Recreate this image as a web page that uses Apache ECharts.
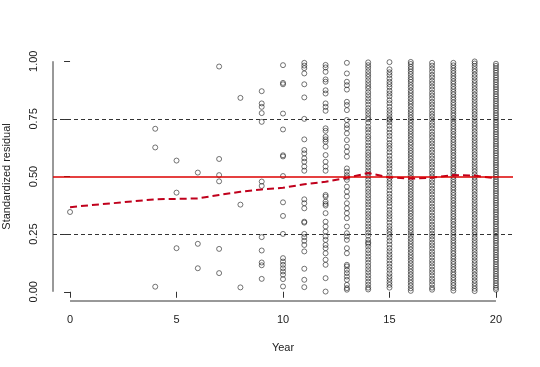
<!DOCTYPE html>
<html>
<head>
<meta charset="utf-8">
<script src="https://cdn.jsdelivr.net/npm/echarts@6/dist/echarts.min.js"></script>
<style>html,body{margin:0;padding:0;background:#fff}#c{width:540px;height:367px}</style>
</head>
<body>
<div id="c"></div>
<script>
// ---- data ----
var years = [0, 4, 5, 6, 7, 8, 9, 10, 11, 12, 13, 14, 15, 16, 17, 18, 19, 20];
var y0 = [0.346];
var y4 = [0.707, 0.626, 0.022];
var y5 = [0.569, 0.430, 0.189];
var y6 = [0.517, 0.208, 0.102];
var y7 = [0.977, 0.576, 0.506, 0.479, 0.186, 0.081];
var y8 = [0.841, 0.378, 0.019];
var y9 = [0.870, 0.817, 0.802, 0.775, 0.737, 0.478, 0.459, 0.237, 0.179, 0.127, 0.115, 0.056];
var y10 = [0.983, 0.906, 0.900, 0.773, 0.704, 0.592, 0.587, 0.502, 0.388, 0.329, 0.251, 0.146, 0.131, 0.117, 0.102, 0.088, 0.074, 0.055, 0.023];
var y11 = [0.993, 0.981, 0.970, 0.947, 0.900, 0.843, 0.750, 0.661, 0.615, 0.600, 0.579, 0.564, 0.543, 0.525, 0.401, 0.384, 0.362, 0.304, 0.300, 0.251, 0.237, 0.221, 0.203, 0.175, 0.100, 0.052, 0.020];
var y12 = [0.984, 0.973, 0.954, 0.921, 0.911, 0.874, 0.860, 0.817, 0.802, 0.785, 0.709, 0.698, 0.672, 0.661, 0.651, 0.629, 0.593, 0.564, 0.543, 0.525, 0.420, 0.413, 0.391, 0.381, 0.374, 0.341, 0.304, 0.283, 0.261, 0.240, 0.225, 0.203, 0.189, 0.167, 0.139, 0.117, 0.059, 0.001];
var y13 = [0.993, 0.947, 0.911, 0.896, 0.877, 0.824, 0.810, 0.788, 0.745, 0.723, 0.709, 0.687, 0.658, 0.629, 0.608, 0.586, 0.535, 0.521, 0.506, 0.496, 0.485, 0.456, 0.434, 0.413, 0.384, 0.362, 0.341, 0.319, 0.283, 0.254, 0.240, 0.225, 0.189, 0.167, 0.117, 0.110, 0.095, 0.081, 0.066, 0.052, 0.030, 0.016, 0.009];
var y14 = [0.995, 0.983, 0.971, 0.957, 0.944, 0.932, 0.918, 0.905, 0.892, 0.881, 0.866, 0.853, 0.839, 0.826, 0.812, 0.797, 0.784, 0.771, 0.757, 0.748, 0.733, 0.716, 0.704, 0.690, 0.675, 0.663, 0.648, 0.634, 0.621, 0.606, 0.593, 0.580, 0.566, 0.553, 0.540, 0.526, 0.514, 0.500, 0.487, 0.473, 0.461, 0.446, 0.433, 0.419, 0.406, 0.392, 0.379, 0.366, 0.351, 0.338, 0.324, 0.311, 0.296, 0.283, 0.270, 0.256, 0.243, 0.225, 0.214, 0.208, 0.196, 0.181, 0.167, 0.153, 0.140, 0.126, 0.112, 0.098, 0.085, 0.071, 0.058, 0.044, 0.031, 0.018, 0.010];
var y15 = [0.996, 0.965, 0.952, 0.940, 0.925, 0.911, 0.900, 0.888, 0.872, 0.860, 0.848, 0.831, 0.818, 0.802, 0.788, 0.775, 0.762, 0.750, 0.746, 0.735, 0.720, 0.705, 0.690, 0.676, 0.661, 0.645, 0.633, 0.620, 0.605, 0.590, 0.575, 0.561, 0.548, 0.535, 0.520, 0.505, 0.493, 0.480, 0.468, 0.455, 0.440, 0.425, 0.411, 0.398, 0.385, 0.370, 0.355, 0.341, 0.328, 0.315, 0.300, 0.285, 0.272, 0.260, 0.248, 0.235, 0.220, 0.205, 0.190, 0.176, 0.162, 0.150, 0.136, 0.122, 0.108, 0.095, 0.080, 0.067, 0.055, 0.042, 0.030, 0.018];
var y16 = [0.997, 0.988, 0.976, 0.966, 0.955, 0.944, 0.931, 0.920, 0.910, 0.897, 0.886, 0.873, 0.862, 0.850, 0.838, 0.826, 0.815, 0.803, 0.790, 0.779, 0.767, 0.755, 0.744, 0.732, 0.720, 0.707, 0.696, 0.684, 0.672, 0.660, 0.648, 0.637, 0.624, 0.612, 0.601, 0.589, 0.577, 0.565, 0.553, 0.541, 0.529, 0.517, 0.505, 0.494, 0.481, 0.470, 0.458, 0.446, 0.434, 0.422, 0.410, 0.398, 0.386, 0.374, 0.362, 0.350, 0.339, 0.327, 0.315, 0.303, 0.291, 0.279, 0.267, 0.255, 0.243, 0.231, 0.219, 0.207, 0.195, 0.183, 0.171, 0.159, 0.147, 0.135, 0.123, 0.111, 0.099, 0.087, 0.075, 0.063, 0.051, 0.039, 0.027, 0.015, 0.004];
var y17 = [0.993, 0.981, 0.968, 0.955, 0.941, 0.929, 0.915, 0.903, 0.890, 0.877, 0.863, 0.851, 0.838, 0.824, 0.812, 0.799, 0.785, 0.772, 0.760, 0.747, 0.733, 0.721, 0.708, 0.694, 0.681, 0.669, 0.655, 0.643, 0.630, 0.616, 0.604, 0.590, 0.578, 0.564, 0.552, 0.539, 0.525, 0.513, 0.500, 0.486, 0.474, 0.461, 0.447, 0.435, 0.422, 0.408, 0.396, 0.383, 0.369, 0.357, 0.344, 0.330, 0.318, 0.305, 0.291, 0.279, 0.266, 0.252, 0.240, 0.227, 0.213, 0.201, 0.188, 0.174, 0.162, 0.149, 0.135, 0.123, 0.110, 0.096, 0.084, 0.071, 0.057, 0.045, 0.032, 0.018, 0.009];
var y18 = [0.993, 0.982, 0.971, 0.959, 0.948, 0.936, 0.925, 0.913, 0.902, 0.890, 0.879, 0.867, 0.856, 0.844, 0.833, 0.821, 0.810, 0.798, 0.787, 0.775, 0.764, 0.752, 0.741, 0.729, 0.718, 0.706, 0.695, 0.683, 0.672, 0.660, 0.649, 0.637, 0.626, 0.614, 0.603, 0.591, 0.580, 0.568, 0.557, 0.545, 0.534, 0.522, 0.511, 0.499, 0.488, 0.476, 0.465, 0.453, 0.442, 0.430, 0.419, 0.407, 0.396, 0.384, 0.373, 0.361, 0.350, 0.338, 0.327, 0.315, 0.304, 0.292, 0.281, 0.269, 0.258, 0.246, 0.235, 0.223, 0.212, 0.200, 0.189, 0.177, 0.166, 0.154, 0.143, 0.131, 0.120, 0.108, 0.097, 0.085, 0.074, 0.062, 0.051, 0.039, 0.028, 0.016, 0.005];
var y19 = [0.999, 0.990, 0.979, 0.966, 0.955, 0.942, 0.930, 0.917, 0.905, 0.893, 0.880, 0.868, 0.855, 0.843, 0.831, 0.818, 0.806, 0.793, 0.781, 0.769, 0.756, 0.744, 0.731, 0.719, 0.707, 0.694, 0.682, 0.669, 0.657, 0.645, 0.632, 0.620, 0.607, 0.595, 0.583, 0.570, 0.558, 0.545, 0.533, 0.521, 0.508, 0.496, 0.483, 0.471, 0.459, 0.446, 0.434, 0.421, 0.409, 0.397, 0.384, 0.372, 0.359, 0.347, 0.335, 0.322, 0.310, 0.297, 0.285, 0.273, 0.260, 0.248, 0.235, 0.223, 0.211, 0.198, 0.186, 0.173, 0.161, 0.149, 0.136, 0.124, 0.111, 0.099, 0.087, 0.074, 0.062, 0.049, 0.037, 0.025, 0.013, 0.003];
var y20 = [0.989, 0.980, 0.970, 0.960, 0.950, 0.939, 0.929, 0.919, 0.909, 0.898, 0.888, 0.878, 0.868, 0.857, 0.847, 0.837, 0.827, 0.816, 0.806, 0.796, 0.786, 0.775, 0.765, 0.755, 0.745, 0.734, 0.724, 0.714, 0.704, 0.693, 0.683, 0.673, 0.663, 0.652, 0.642, 0.632, 0.622, 0.611, 0.601, 0.591, 0.581, 0.570, 0.560, 0.550, 0.540, 0.529, 0.519, 0.509, 0.499, 0.488, 0.478, 0.468, 0.458, 0.447, 0.437, 0.427, 0.417, 0.406, 0.396, 0.386, 0.376, 0.365, 0.355, 0.345, 0.335, 0.324, 0.314, 0.304, 0.294, 0.283, 0.273, 0.263, 0.253, 0.242, 0.232, 0.222, 0.212, 0.201, 0.191, 0.181, 0.171, 0.160, 0.150, 0.140, 0.130, 0.119, 0.109, 0.099, 0.089, 0.078, 0.068, 0.058, 0.048, 0.037, 0.027, 0.017, 0.009];
var columns = [y0, y4, y5, y6, y7, y8, y9, y10, y11, y12, y13, y14, y15, y16, y17, y18, y19, y20];

// smoothed trend (red dashed)
var smoothYears = [0, 1, 2, 3, 4, 5, 6, 7, 8, 9, 10, 11, 12, 13, 14, 15, 16, 17, 18, 19, 20];
var smoothVals = [0.367, 0.376, 0.384, 0.393, 0.401, 0.403, 0.405, 0.420, 0.434, 0.444, 0.451, 0.466, 0.477, 0.494, 0.515, 0.496, 0.491, 0.495, 0.506, 0.504, 0.492];

var refMid = 0.5;
var refBands = [0.25, 0.75];
var xTicks = [0, 5, 10, 15, 20];
var yTicks = [0, 0.25, 0.5, 0.75, 1];
var xRange = [-0.8, 20.8];
var yRange = [-0.04, 1.04];

// ---- build ----
var pts = [];
years.forEach(function (yr, i) {
  columns[i].forEach(function (v) { pts.push([yr, v]); });
});
var smooth = smoothYears.map(function (x, i) { return [x, smoothVals[i]]; });

var font = 'Liberation Sans, Arial, sans-serif';
var chart = echarts.init(document.getElementById('c'), null, { renderer: 'canvas' });
chart.setOption({
  animation: false,
  backgroundColor: '#fff',
  grid: { left: 53, right: 27, top: 52, bottom: 66, containLabel: false, outerBoundsMode: 'none' },
  xAxis: {
    type: 'value', min: xRange[0], max: xRange[1],
    name: 'Year', nameLocation: 'middle', nameGap: 41,
    nameTextStyle: { fontFamily: font, fontSize: 11, color: '#222' },
    axisLine: { show: false },
    axisTick: { show: true, customValues: xTicks, length: 6, lineStyle: { color: '#333' } },
    axisLabel: { customValues: xTicks, margin: 13, fontFamily: font, fontSize: 11, color: '#222' },
    splitLine: { show: false }
  },
  yAxis: {
    type: 'value', min: yRange[0], max: yRange[1],
    name: 'Standardized residual', nameLocation: 'middle', nameGap: 41,
    nameTextStyle: { fontFamily: font, fontSize: 11, color: '#222' },
    axisLine: { show: false },
    axisTick: { show: true, customValues: yTicks, length: 6, lineStyle: { color: '#333' } },
    axisLabel: {
      customValues: yTicks, margin: 14, rotate: 90, fontFamily: font, fontSize: 11, color: '#222',
      formatter: function (v) { return v.toFixed(2); }
    },
    splitLine: { show: false }
  },
  series: [
    {
      type: 'scatter', data: pts, symbol: 'circle', symbolSize: 5, silent: true,
      itemStyle: { color: 'rgba(0,0,0,0)', borderColor: 'rgba(30,30,30,0.85)', borderWidth: 0.9 }
    },
    {
      type: 'line', data: [[xTicks[0], yRange[0]], [xTicks[xTicks.length - 1], yRange[0]]],
      showSymbol: false, clip: false, silent: true, lineStyle: { color: '#333', width: 1 }
    },
    {
      type: 'line', data: [[xRange[0], yTicks[0]], [xRange[0], yTicks[yTicks.length - 1]]],
      showSymbol: false, clip: false, silent: true, lineStyle: { color: '#333', width: 1 }
    },
    {
      type: 'line', data: [], silent: true,
      markLine: {
        silent: true, symbol: ['none', 'none'], label: { show: false },
        data: [
          { yAxis: refBands[0], lineStyle: { color: '#333', type: [4, 3], width: 1 } },
          { yAxis: refBands[1], lineStyle: { color: '#333', type: [4, 3], width: 1 } },
          { yAxis: refMid, lineStyle: { color: '#dd0000', type: 'solid', width: 1.6 } }
        ]
      }
    },
    {
      type: 'line', data: smooth, showSymbol: false, silent: true,
      lineStyle: { color: '#c0001c', width: 2, type: [7, 4] }
    }
  ]
});
</script>
</body>
</html>
